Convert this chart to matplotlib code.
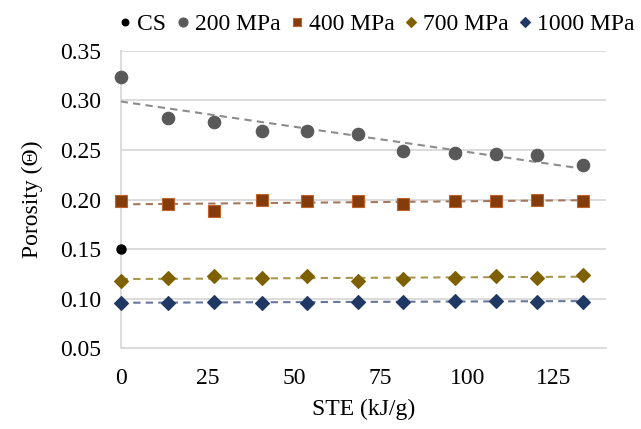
import numpy as np
import matplotlib.pyplot as plt

plt.rcParams['font.family'] = ['Liberation Serif', 'DejaVu Serif']

# STE values (kJ/g) shared by the pressed series
ste = [0, 13.6, 27.0, 40.7, 53.7, 68.5, 81.5, 96.4, 108.3, 120.0, 133.3]

# Porosity
cs_ste = [0]
cs_por = [0.150]
por_200 = [0.323, 0.282, 0.278, 0.269, 0.269, 0.266, 0.249, 0.247, 0.246, 0.245, 0.235]
por_400 = [0.198, 0.1955, 0.188, 0.200, 0.1985, 0.1985, 0.1955, 0.1985, 0.1985, 0.200, 0.1985]
por_700 = [0.118, 0.1205, 0.123, 0.1205, 0.123, 0.118, 0.120, 0.1205, 0.123, 0.1205, 0.124]
por_1000 = [0.096, 0.096, 0.0965, 0.096, 0.096, 0.097, 0.097, 0.098, 0.098, 0.097, 0.097]

labels = ['CS', '200 MPa', '400 MPa', '700 MPa', '1000 MPa']
xticks = [0, 25, 50, 75, 100, 125]
yticks = [0.05, 0.10, 0.15, 0.20, 0.25, 0.30, 0.35]

fig = plt.figure(figsize=(6.41, 4.29), dpi=100)
ax = fig.add_axes([0.1883, 0.1881, 0.7571, 0.6937])

# series: (values, marker, size, face colour, edge colour, trend colour)
series = [
    (por_200, 'o', 9.0, '#595959', '#595959', '#8c8c8c'),
    (por_400, 's', 8.6, '#843c0c', '#c0622a', '#a5785e'),
    (por_700, 'D', 6.8, '#7f6000', '#7f6000', '#a8974f'),
    (por_1000, 'D', 6.8, '#203864', '#203864', '#68789c'),
]

handles = []
h, = ax.plot(cs_ste, cs_por, linestyle='none', marker='o', ms=6.5,
             color='black', clip_on=False, zorder=4)
handles.append(h)

for vals, mk, ms, fc, ec, tc in series:
    # linear trend line like the Excel one
    coef = np.polyfit(ste, vals, 1)
    ends = [ste[0], ste[-1]]
    ax.plot(ends, np.polyval(coef, ends), linestyle=(0, (3.5, 2.5)), lw=1.5,
            color=tc, zorder=3)
    h, = ax.plot(ste, vals, linestyle='none', marker=mk, ms=ms, mfc=fc,
                 mec=ec, mew=0.8, clip_on=False, zorder=4)
    handles.append(h)

ax.set_xlim(0, 140)
ax.set_ylim(0.05, 0.35)
ax.set_xticks(xticks)
ax.set_yticks(yticks)
ax.yaxis.set_major_formatter(plt.FormatStrFormatter('%.2f'))
ax.tick_params(length=0, labelsize=17, colors='black')
ax.tick_params(axis='x', pad=14)
ax.tick_params(axis='y', pad=14)

ax.grid(axis='y', color='#d9d9d9', lw=1.3)
ax.set_axisbelow(True)
for side in ['top', 'right']:
    ax.spines[side].set_visible(False)
for side in ['left', 'bottom']:
    ax.spines[side].set_color('#d9d9d9')
    ax.spines[side].set_linewidth(1.3)

ax.set_xlabel('STE (kJ/g)', fontsize=17, labelpad=7)
ax.set_ylabel('Porosity (Θ)', fontsize=17, labelpad=12)

fig.legend(handles, labels, loc='center', bbox_to_anchor=(0.587, 0.944),
           ncol=5, frameon=False, fontsize=17, markerscale=0.72,
           handlelength=0.6, handletextpad=0.2, columnspacing=0.4,
           borderaxespad=0)

fig.savefig('out.png', dpi=100)
